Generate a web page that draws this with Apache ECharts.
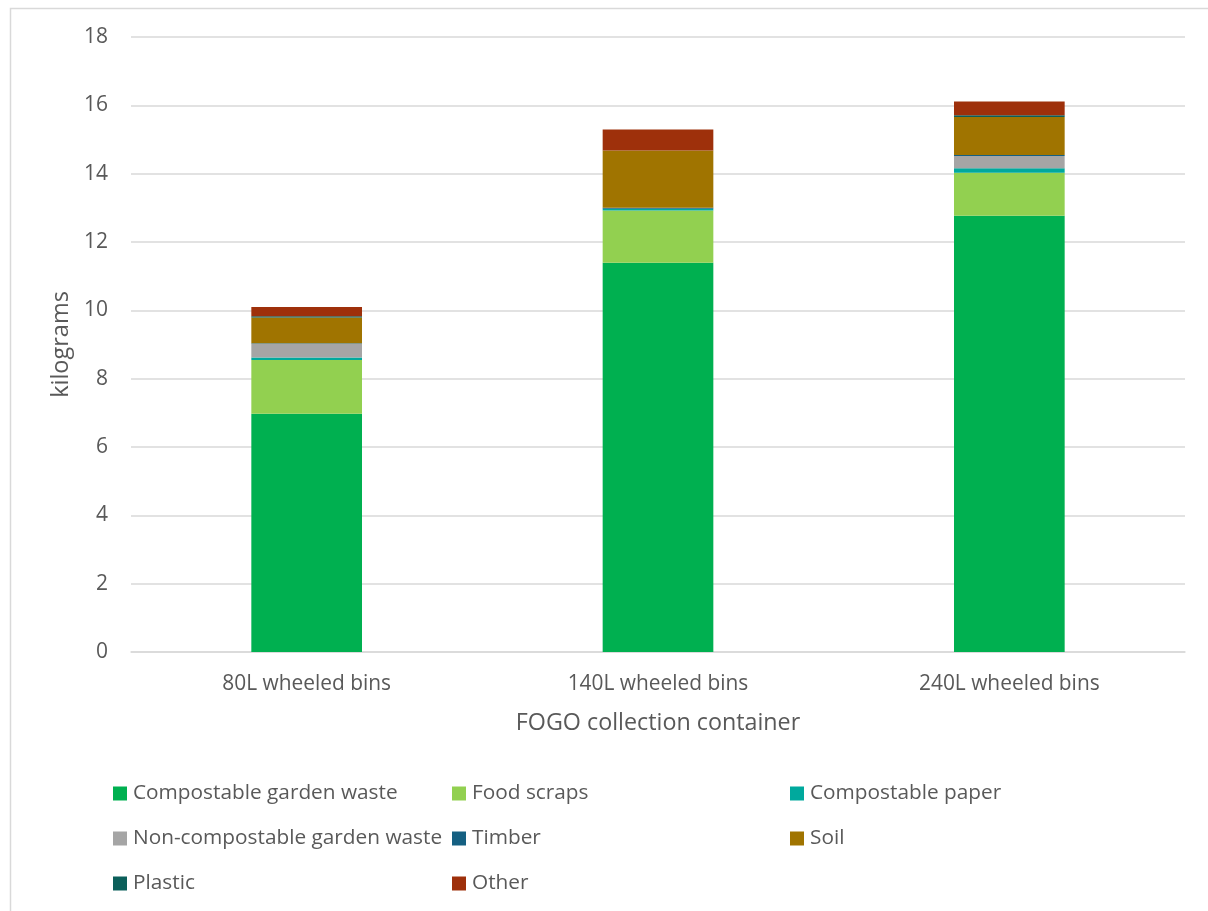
<!DOCTYPE html>
<html>
<head>
<meta charset="utf-8">
<script src="https://cdn.jsdelivr.net/npm/echarts@6/dist/echarts.min.js"></script>
<style>
  html, body { margin: 0; padding: 0; background: #fff; }
  #chart { width: 1208px; height: 911px; }
</style>
</head>
<body>
<div id="chart"></div>
<script>
// Average mass per bin (kg) by material, for each FOGO container size
const categories = ['80L wheeled bins', '140L wheeled bins', '240L wheeled bins'];
const gardenWaste    = [6.97, 11.39, 12.77];
const foodScraps     = [1.58, 1.53, 1.26];
const compostPaper   = [0.07, 0.05, 0.13];
const nonCompostGW   = [0.40, 0.00, 0.36];
const timber         = [0.02, 0.03, 0.03];
const soil           = [0.75, 1.68, 1.11];
const plastic        = [0.04, 0.00, 0.05];
const other          = [0.27, 0.61, 0.40];
const yTicks = { min: 0, max: 18, interval: 2 };

const seriesDefs = [
  { name: 'Compostable garden waste', data: gardenWaste, color: '#00B050' },
  { name: 'Food scraps', data: foodScraps, color: '#92D050' },
  { name: 'Compostable paper', data: compostPaper, color: '#00A99D' },
  { name: 'Non-compostable garden waste', data: nonCompostGW, color: '#A5A5A5' },
  { name: 'Timber', data: timber, color: '#156082' },
  { name: 'Soil', data: soil, color: '#A07400' },
  { name: 'Plastic', data: plastic, color: '#0B5F5A' },
  { name: 'Other', data: other, color: '#9E300B' }
];

// Legend slots: three columns, three rows
const legendSlots = [
  [113, 783], [452, 783], [790, 783],
  [113, 828], [452, 828], [790, 828],
  [113, 873], [452, 873]
];

const textColor = '#595959';
const font = 'Open Sans';

const chart = echarts.init(document.getElementById('chart'));
chart.setOption({
  backgroundColor: '#fff',
  animation: false,
  textStyle: { fontFamily: font, color: textColor },
  graphic: [{
    type: 'rect',
    shape: { x: 10.5, y: 8.5, width: 1300, height: 1000 },
    style: { fill: 'none', stroke: '#d9d9d9', lineWidth: 1.5 },
    silent: true
  }],
  grid: { left: 131, right: 23, top: 37, bottom: 259 },
  legend: seriesDefs.map((s, i) => ({
    data: [s.name],
    left: legendSlots[i][0],
    top: legendSlots[i][1],
    orient: 'horizontal',
    itemWidth: 14,
    itemHeight: 14,
    itemGap: 0,
    icon: 'rect',
    padding: 0,
    textStyle: { fontFamily: font, fontSize: 20.8, color: textColor, padding: [0, 0, 0, 1] }
  })),
  xAxis: {
    type: 'category',
    data: categories,
    name: 'FOGO collection container',
    nameLocation: 'middle',
    nameGap: 60,
    nameTextStyle: { fontFamily: font, fontSize: 23.3, color: textColor },
    axisLine: { lineStyle: { color: '#d9d9d9', width: 1.5 } },
    axisTick: { show: false },
    axisLabel: { fontFamily: font, fontSize: 20.9, color: textColor, margin: 22 }
  },
  yAxis: {
    type: 'value',
    min: yTicks.min,
    max: yTicks.max,
    interval: yTicks.interval,
    name: 'kilograms',
    nameLocation: 'middle',
    nameGap: 57,
    nameTextStyle: { fontFamily: font, fontSize: 23.5, color: textColor },
    axisLine: { show: false },
    axisTick: { show: false },
    axisLabel: { fontFamily: font, fontSize: 21, color: textColor, margin: 23 },
    splitLine: { lineStyle: { color: '#d9d9d9', width: 1.5 } }
  },
  series: seriesDefs.map(s => ({
    name: s.name,
    type: 'bar',
    stack: 'total',
    data: s.data,
    barWidth: '31.5%',
    itemStyle: { color: s.color },
    emphasis: { disabled: true }
  }))
});
</script>
</body>
</html>
